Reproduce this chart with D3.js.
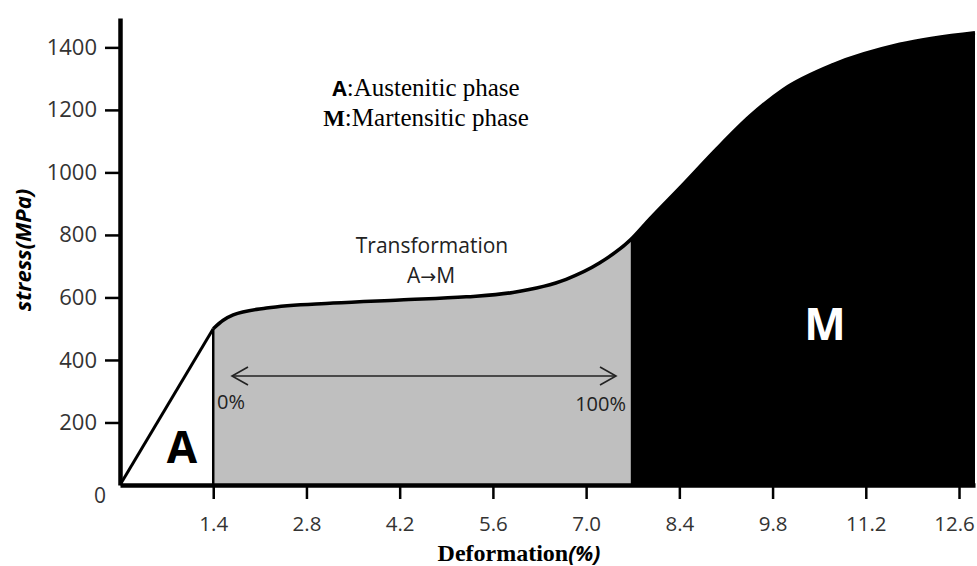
<!DOCTYPE html>
<html>
<head>
<meta charset="utf-8">
<script src="https://cdn.jsdelivr.net/npm/d3@7"></script>
<style>
  html, body { margin: 0; padding: 0; background: #fff; }
  svg { display: block; }
</style>
</head>
<body>
<div id="chart"></div>
<script>
// stress-strain curve
var strain = [0, 1.4, 1.55, 1.7, 2.2, 3.2, 4.2, 5.2, 5.9, 6.7, 7.2, 7.67, 7.96, 8.45, 8.96, 9.46, 9.96, 10.71, 11.71, 12.84]
var stress = [0, 500, 527, 544, 566, 582, 592, 602, 616, 658, 710, 785, 852, 960, 1075, 1180, 1265, 1345, 1410, 1447]

var xTicks = [1.4, 2.8, 4.2, 5.6, 7.0, 8.4, 9.8, 11.2, 12.6]
var yTicks = [200, 400, 600, 800, 1000, 1200, 1400]

var startTransform = 1.4
var endTransform = 7.67
var xMax = 12.84
var yMax = 1494

var width = 977
var height = 566

var sans = "'Open Sans', sans-serif"
var serif = "'Liberation Serif', serif"

var svg = d3.select('#chart').append('svg')
  .attr('width', width)
  .attr('height', height)

var x = d3.scaleLinear().domain([0, xMax]).range([120, 975])
var y = d3.scaleLinear().domain([0, yMax]).range([485, 18])

var points = strain.map(function (d, i) { return { x: d, y: stress[i] } })
var curvePts = points.filter(function (d) { return d.x >= startTransform })

// linear lookup on the read points
function stressAt (v) {
  for (var i = 1; i < points.length; i++) {
    if (points[i].x >= v) {
      var a = points[i - 1]
      var b = points[i]
      return a.y + (b.y - a.y) * (v - a.x) / (b.x - a.x)
    }
  }
  return points[points.length - 1].y
}

var area = d3.area()
  .curve(d3.curveMonotoneX)
  .x(function (d) { return x(d.x) })
  .y0(y(0))
  .y1(function (d) { return y(d.y) })

var line = d3.line()
  .curve(d3.curveMonotoneX)
  .x(function (d) { return x(d.x) })
  .y(function (d) { return y(d.y) })

var grayPts = curvePts.filter(function (d) { return d.x <= endTransform })
var blackPts = curvePts.filter(function (d) { return d.x >= endTransform })

svg.append('path')
  .datum(grayPts)
  .attr('d', area)
  .attr('fill', '#bfbfbf')

svg.append('path')
  .datum(blackPts)
  .attr('d', area)
  .attr('fill', '#000')

// elastic part, straight
svg.append('line')
  .attr('x1', x(0)).attr('y1', y(0))
  .attr('x2', x(startTransform)).attr('y2', y(stressAt(startTransform)))
  .attr('stroke', '#000')
  .attr('stroke-width', 3)

svg.append('path')
  .datum(curvePts)
  .attr('d', line)
  .attr('fill', 'none')
  .attr('stroke', '#000')
  .attr('stroke-width', 3.5)

svg.append('line')
  .attr('x1', x(startTransform)).attr('y1', y(0))
  .attr('x2', x(startTransform)).attr('y2', y(stressAt(startTransform)))
  .attr('stroke', '#000')
  .attr('stroke-width', 2.5)

// axes
var xAxis = svg.append('g')
  .attr('transform', 'translate(0,' + y(0) + ')')
  .call(d3.axisBottom(x).tickValues(xTicks).tickSize(14).tickSizeOuter(0).tickPadding(17)
    .tickFormat(d3.format('.1f')))

var yAxis = svg.append('g')
  .attr('transform', 'translate(' + x(0) + ',0)')
  .call(d3.axisLeft(y).tickValues(yTicks).tickSize(15).tickSizeOuter(0).tickPadding(8)
    .tickFormat(d3.format('d')))

xAxis.select('.domain').attr('stroke-width', 4.5).attr('stroke', '#000')
yAxis.select('.domain').attr('stroke-width', 4.5).attr('stroke', '#000')
xAxis.selectAll('.tick line').attr('stroke-width', 2.5).attr('stroke', '#000')
yAxis.selectAll('.tick line').attr('stroke-width', 2.5).attr('stroke', '#000')
svg.selectAll('.tick text')
  .attr('font-family', sans)
  .attr('fill', '#333')
xAxis.selectAll('.tick text')
  .attr('font-size', 20.5)
  .attr('dx', function (d) { return d === 12.6 ? -5 : 0 })
yAxis.selectAll('.tick text').attr('font-size', 22)

svg.append('text')
  .attr('x', x(0) - 20)
  .attr('y', y(0) + 18)
  .attr('text-anchor', 'middle')
  .style('font-family', sans)
  .style('font-size', '21px')
  .style('fill', '#333')
  .text('0')

// axis titles
var xTitle = svg.append('text')
  .attr('x', 519)
  .attr('y', 561)
  .attr('text-anchor', 'middle')
  .style('font-size', '24px')
  .style('font-weight', 'bold')
xTitle.append('tspan')
  .style('font-family', serif)
  .text('Deformation')
xTitle.append('tspan')
  .style('font-family', sans)
  .style('font-style', 'italic')
  .style('font-size', '21px')
  .text('(%)')

svg.append('text')
  .attr('transform', 'translate(31,250) rotate(-90)')
  .attr('text-anchor', 'middle')
  .style('font-family', sans)
  .style('font-size', '22px')
  .style('font-weight', 'bold')
  .style('font-style', 'italic')
  .text('stress(MPa)')

// legend text
var legend = [
  { key: 'A', label: 'Austenitic phase', y: 96 },
  { key: 'M', label: 'Martensitic phase', y: 126 }
]
legend.forEach(function (d) {
  var t = svg.append('text')
    .attr('x', 426)
    .attr('y', d.y)
    .attr('text-anchor', 'middle')
    .style('font-size', '25px')
  t.append('tspan')
    .style('font-family', d.key === 'A' ? sans : serif)
    .style('font-weight', 'bold')
    .style('font-size', d.key === 'A' ? '21px' : '23px')
    .text(d.key)
  t.append('tspan')
    .style('font-family', serif)
    .text(':' + d.label)
})

// transformation annotation
svg.append('text')
  .attr('x', 432)
  .attr('y', 253)
  .attr('text-anchor', 'middle')
  .style('font-family', sans)
  .style('font-size', '21px')
  .style('fill', '#222')
  .text('Transformation')

var am = svg.append('text')
  .attr('x', 431)
  .attr('y', 283)
  .attr('text-anchor', 'middle')
  .style('font-family', sans)
  .style('font-size', '21px')
  .style('fill', '#222')
am.append('tspan').text('A')
am.append('tspan').style('font-family', "'DejaVu Sans', sans-serif").style('font-size', '19px').text('\u2192')
am.append('tspan').text('M')

var arrowY = 376
var ax1 = 232
var ax2 = 616
svg.append('line')
  .attr('x1', ax1).attr('y1', arrowY)
  .attr('x2', ax2).attr('y2', arrowY)
  .attr('stroke', '#222')
  .attr('stroke-width', 1.6)
svg.append('path')
  .attr('d', 'M' + (ax1 + 16) + ',' + (arrowY - 9) + 'L' + ax1 + ',' + arrowY + 'L' + (ax1 + 16) + ',' + (arrowY + 9))
  .attr('fill', 'none')
  .attr('stroke', '#222')
  .attr('stroke-width', 1.6)
svg.append('path')
  .attr('d', 'M' + (ax2 - 16) + ',' + (arrowY - 9) + 'L' + ax2 + ',' + arrowY + 'L' + (ax2 - 16) + ',' + (arrowY + 9))
  .attr('fill', 'none')
  .attr('stroke', '#222')
  .attr('stroke-width', 1.6)

svg.append('text')
  .attr('x', 217)
  .attr('y', 409)
  .style('font-family', sans)
  .style('font-size', '20px')
  .style('fill', '#222')
  .text('0%')

svg.append('text')
  .attr('x', 626)
  .attr('y', 411)
  .attr('text-anchor', 'end')
  .style('font-family', sans)
  .style('font-size', '20px')
  .style('fill', '#222')
  .text('100%')

// phase labels
svg.append('text')
  .attr('x', 182)
  .attr('y', 463)
  .attr('text-anchor', 'middle')
  .style('font-family', sans)
  .style('font-size', '44px')
  .style('font-weight', 'bold')
  .text('A')

svg.append('text')
  .attr('x', 825)
  .attr('y', 340)
  .attr('text-anchor', 'middle')
  .style('font-family', sans)
  .style('font-size', '44px')
  .style('font-weight', 'bold')
  .style('fill', '#fff')
  .text('M')
</script>
</body>
</html>
